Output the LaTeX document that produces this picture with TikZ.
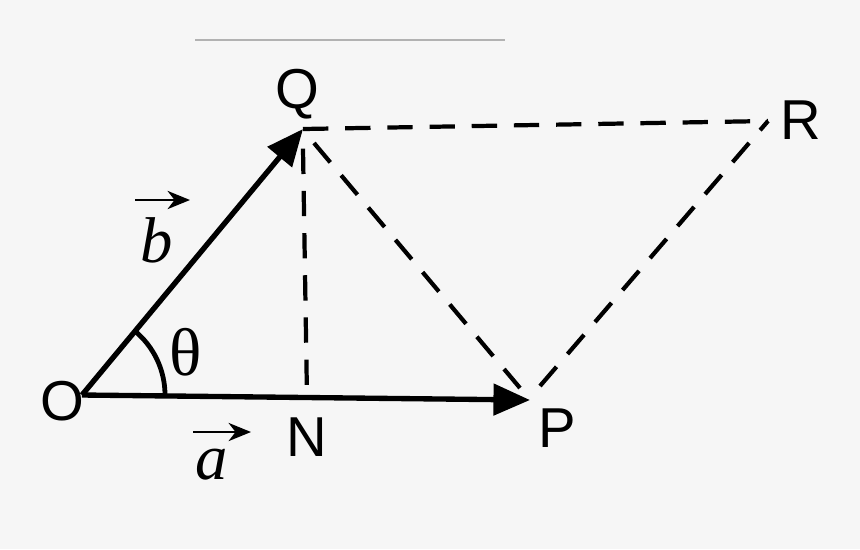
\documentclass[tikz,border=0pt]{standalone}
\usepackage{fontspec}
\setmainfont{Liberation Sans}
\newfontfamily\serifit{Liberation Serif}
\usetikzlibrary{arrows.meta}
\definecolor{bg}{HTML}{F6F6F6}
\tikzset{
  vec/.style={line width=3.8pt, -{Triangle[length=26pt,width=22pt]}},
  dsh/.style={line width=3pt, dash pattern=on 18pt off 12pt},
  lbl/.style={font=\fontsize{40}{40}\selectfont, inner sep=0pt},
  small/.style={line width=1.2pt, -{Stealth[length=16pt,width=13pt,inset=5pt]}},
}
\begin{document}
\begin{tikzpicture}[x=0.025cm,y=-0.025cm]
\fill[bg] (0,0) rectangle (860,549);
\useasboundingbox (0,0) rectangle (860,549);
\draw[gray!60, line width=0.8pt] (195,40) -- (505,40);
\coordinate (O) at (82,395);
\coordinate (P) at (530,400);
\coordinate (Q) at (303,129);
\coordinate (R) at (768,121);
\coordinate (N) at (307,398);
\draw[vec] (O) -- (P);
\draw[vec] (O) -- (Q);
\draw[dsh] (Q) -- (R);
\draw[dsh] ([yshift=-14pt]Q.center) -- (N);
\draw[dsh] (314,143) -- (520,388);
\draw[dsh] (540,386) -- (R);
\draw[line width=3.4pt] ([shift={(0:83)}]O) arc[start angle=0, end angle=-51, radius=83];
\node[lbl] (Ol) at (62,401) {O};
\node[lbl] (Ql) at (297,94) {Q};
\node[lbl] (Pl) at (557,428) {P};
\node[lbl] (Rl) at (801,120) {R};
\node[lbl] (Nl) at (307,437) {N};
\node[inner sep=0pt, font=\serifit\fontsize{48}{48}\selectfont] (th) at (186,352) {θ};
\node[inner sep=0pt, font=\serifit\itshape\fontsize{46}{46}\selectfont] (al) at (212,465) {a};
\node[inner sep=0pt, font=\serifit\itshape\fontsize{46}{46}\selectfont] (bl) at (157,240) {b};
\draw[small] (193,432) -- (251,432);
\draw[small] (135,200) -- (190,200);
\end{tikzpicture}
\end{document}
